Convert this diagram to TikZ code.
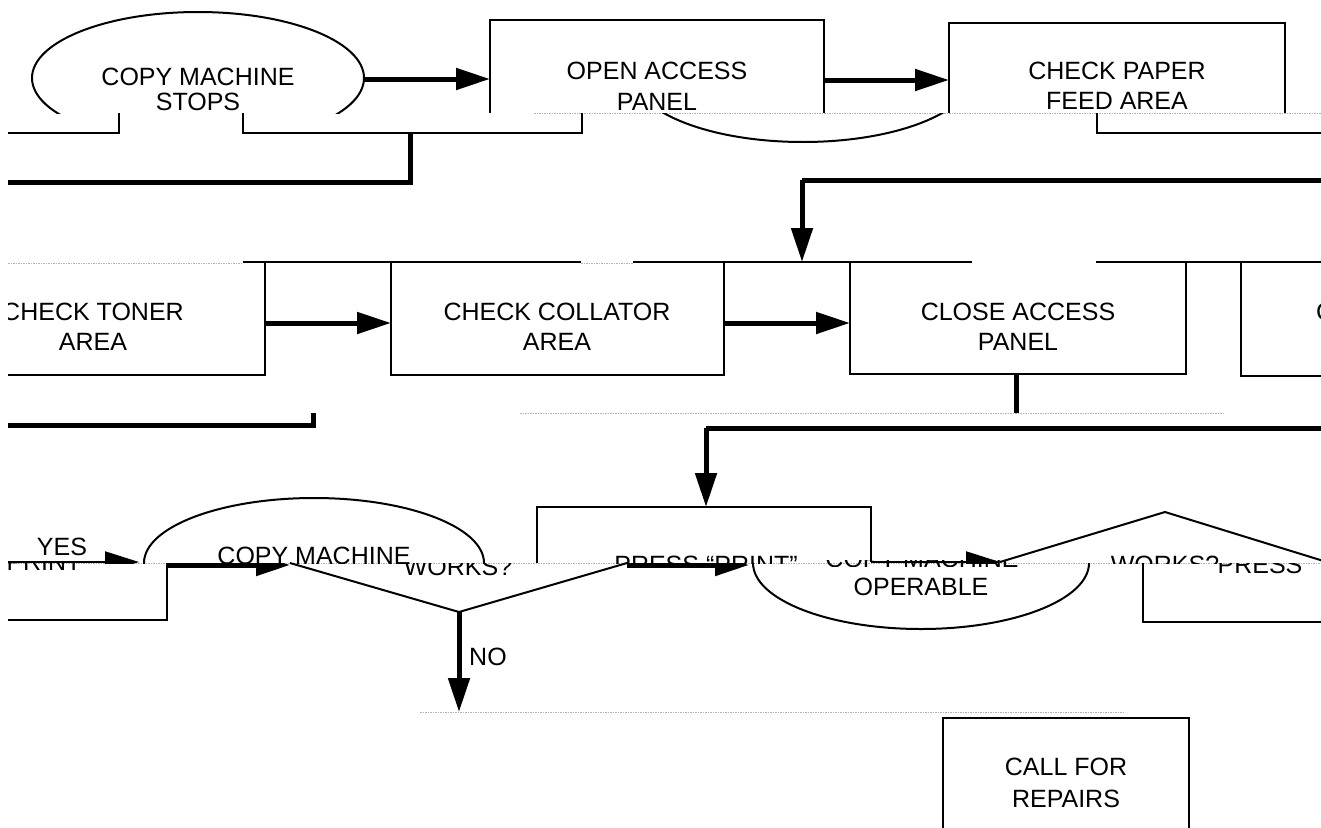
\documentclass[tikz,border=0pt]{standalone}
\usepackage{fontspec}
\setmainfont{Liberation Sans}
\usetikzlibrary{arrows.meta}
\begin{document}
\begin{tikzpicture}[x=1pt,y=-1pt,
  ln/.style={line width=2pt},
  tk/.style={line width=5pt},
  seam/.style={gray!60, line width=0.8pt, dash pattern=on 1.5pt off 1pt},
  arr/.style={-{Triangle[length=34pt,width=21pt]}},
  txt/.style={inner sep=0pt, anchor=base, font=\fontsize{25pt}{30pt}\selectfont}]
\useasboundingbox (0,0) rectangle (1321,827);
\begin{scope}
\clip (8,-2) rectangle (1321,829);
% ---------- seams ----------
\draw[seam] (534,113) -- (1321,113);
\draw[seam] (8,263) -- (243,263);
\draw[seam] (581,263) -- (633,263);
\draw[seam] (520,413) -- (1223,413);
\draw[seam] (8,563) -- (1321,563);
\draw[seam] (420,712) -- (1125,712);
% ---------- row 1 (upper band) ----------
\begin{scope}
\clip (0,0) rectangle (1321,113);
\draw[ln] (198,78) ellipse [x radius=166pt, y radius=66pt];
\draw[ln] (490,113) -- (490,20) -- (824,20) -- (824,113);
\draw[ln] (949,113) -- (949,23) -- (1285,23) -- (1285,113);
\node[txt] (t1a) at (198,85) {COPY MACHINE};
\node[txt] (t1b) at (198,110) {STOPS};
\node[txt] (t2a) at (657,79) {OPEN ACCESS};
\node[txt] (t2b) at (657,110) {PANEL};
\node[txt] (t3a) at (1117,79) {CHECK PAPER};
\node[txt] (t3b) at (1117,109) {FEED AREA};
\end{scope}
\draw[tk,arr] (364,79) -- (490,79);
\draw[tk,arr] (824,80) -- (949,80);
% ---------- row 1 (lower band) ----------
\draw[ln] (8,133) -- (119,133) -- (119,113);
\draw[ln] (243,113) -- (243,133) -- (582,133) -- (582,113);
\draw[tk] (8,182) -- (410,182) -- (410,133);
\begin{scope}
\clip (0,113) rectangle (1321,200);
\draw[ln] (803,74) ellipse [x radius=170pt, y radius=68pt];
\end{scope}
\draw[ln] (1097,113) -- (1097,133) -- (1321,133);
\draw[tk] (802,180) -- (1321,180);
\draw[tk,arr] (802,180) -- (802,262);
% ---------- row 2 ----------
\draw[ln] (243,262) -- (581,262);
\draw[ln] (633,262) -- (972,262);
\draw[ln] (1096,262) -- (1321,262);
\draw[ln] (-80,375) -- (265,375) -- (265,263);
\draw[ln] (391,263) -- (391,375) -- (724,375) -- (724,263);
\draw[ln] (850,262) -- (850,374) -- (1186,374) -- (1186,262);
\draw[ln] (1241,263) -- (1241,376) -- (1330,376);
\draw[tk,arr] (265,323) -- (391,323);
\draw[tk,arr] (724,323) -- (850,323);
\node[txt] (t4a) at (93,320) {CHECK TONER};
\node[txt] (t4b) at (93,350) {AREA};
\node[txt] (t5a) at (557,320) {CHECK COLLATOR};
\node[txt] (t5b) at (557,350) {AREA};
\node[txt] (t6a) at (1018,320) {CLOSE ACCESS};
\node[txt] (t6b) at (1018,350) {PANEL};
\node[txt,anchor=base west] (t7a) at (1316,320) {C};
\draw[tk] (8,425) -- (313,425) -- (313,413);
\draw[tk] (1016,374) -- (1016,413);
\draw[tk] (706,428) -- (1321,428);
\draw[tk,arr] (706,428) -- (706,507);
% ---------- row 3 upper band ----------
\begin{scope}
\clip (0,400) rectangle (1321,563);
\draw[ln] (314,563) ellipse [x radius=170pt, y radius=65pt];
\draw[ln,arr] (8,562) -- (139,562);
\draw[ln,arr] (871,562) -- (1000,562);
\node[txt] (t8a) at (314,564) {COPY MACHINE};
\node[txt] (t9a) at (706,573) {PRESS “PRINT”};
\node[txt] (t10a) at (1165,573) {WORKS?};
\end{scope}
\node[txt] (yes) at (62,555) {YES};
\draw[ln] (537,563) -- (537,507) -- (871,507) -- (871,562);
\draw[ln] (1000,562) -- (1165,512) -- (1330,563);
\draw[ln] (290,563) -- (459,612) -- (627,563);
\draw[ln] (1143,563) -- (1143,622) -- (1330,622);
\draw[ln] (-5,620) -- (167,620) -- (167,563);
\draw[tk,arr] (459,612) -- (459,712);
\node[txt,anchor=base west] (no) at (469,665) {NO};
% ---------- row 3 lower band ----------
\begin{scope}
\clip (0,563) rectangle (1321,700);
\draw[ln] (921,563) ellipse [x radius=168pt, y radius=66pt];
\draw[tk,arr] (167,565) -- (290,565);
\draw[tk,arr] (627,565) -- (749,565);
\node[txt] (t8b) at (44,570) {PRINT};
\node[txt] (t8c) at (458,575) {WORKS?};
\node[txt] (t10b) at (1260,573) {PRESS};
\end{scope}
\begin{scope}
\clip (0,560) rectangle (1321,566);
\node[txt] (t11a) at (922,567) {COPY MACHINE};
\end{scope}
\node[txt] (t11b) at (921,595) {OPERABLE};
% ---------- bottom ----------
\draw[ln] (943,835) -- (943,718) -- (1189,718) -- (1189,835);
\node[txt] (t12a) at (1066,775) {CALL FOR};
\node[txt] (t12b) at (1066,807) {REPAIRS};
\end{scope}
\end{tikzpicture}
\end{document}
